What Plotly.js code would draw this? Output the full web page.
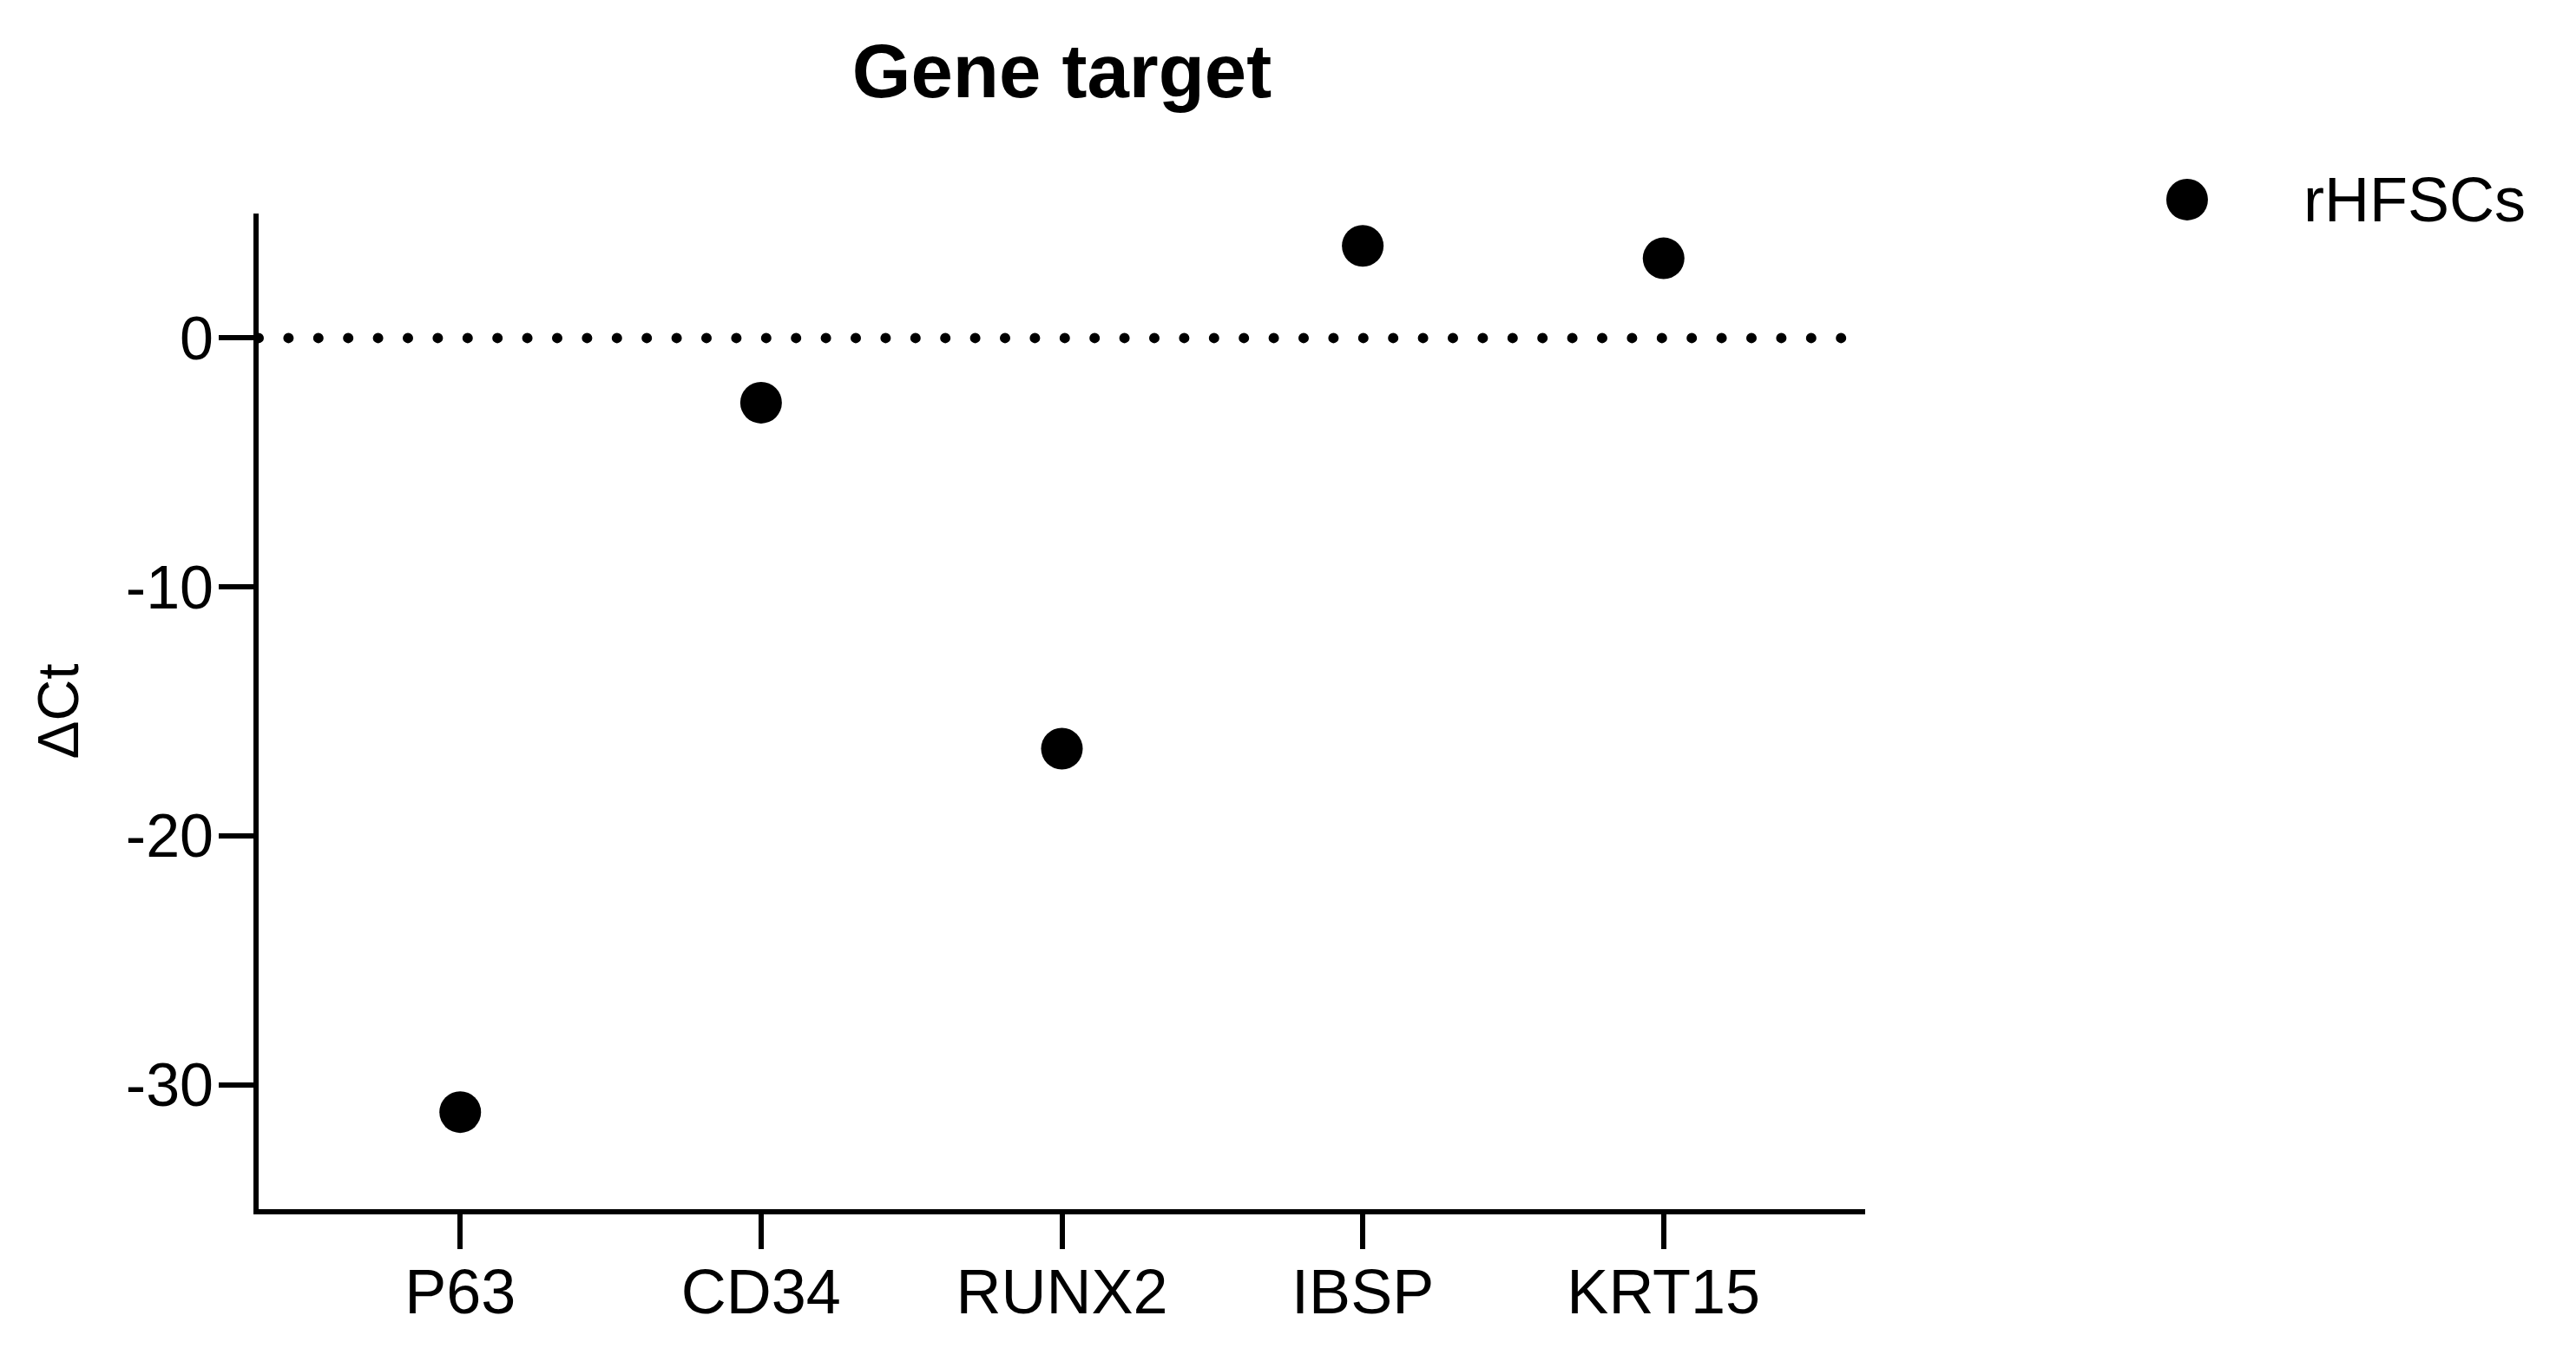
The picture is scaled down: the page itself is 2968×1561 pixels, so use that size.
<!DOCTYPE html>
<html>
<head>
<meta charset="utf-8">
<script src="https://cdn.plot.ly/plotly-3.0.1.min.js"></script>
<style>
  html, body { margin: 0; padding: 0; background: #fff; }
  #chart { width: 2968px; height: 1561px; }
  /* round caps turn the zero-length dashes of the reference line into dots */
  .shapelayer path.refline { stroke-linecap: round; }
</style>
</head>
<body>
<div id="chart"></div>
<script>
// values
var genes = ['P63', 'CD34', 'RUNX2', 'IBSP', 'KRT15'];
var deltaCt = [-31.1, -2.6, -16.5, 3.7, 3.2];
var yTicks = [-30, -20, -10, 0];
var seriesName = 'rHFSCs';

var black = '#000000';
var fontFamily = 'Arial, "Liberation Sans", sans-serif';

var data = [{
  x: genes,
  y: deltaCt,
  type: 'scatter',
  mode: 'markers',
  name: seriesName,
  marker: {
    color: black,
    size: 48,
    symbol: 'circle'
  },
  showlegend: false
}];

var layout = {
  width: 2968,
  height: 1561,
  margin: { l: 298, r: 819, t: 246, b: 168 },
  paper_bgcolor: '#ffffff',
  plot_bgcolor: '#ffffff',
  font: { family: fontFamily, color: black, size: 72 },
  title: {
    text: '<b>Gene target</b>',
    font: { family: fontFamily, size: 87, color: black },
    xref: 'paper',
    x: 0.5,
    xanchor: 'center',
    yref: 'container',
    y: 0.948,
    yanchor: 'middle'
  },
  xaxis: {
    type: 'category',
    range: [-0.67, 4.67],
    showline: true,
    linecolor: black,
    linewidth: 6,
    ticks: 'outside',
    ticklen: 40,
    tickwidth: 6,
    tickcolor: black,
    showgrid: false,
    zeroline: false,
    fixedrange: true,
    ticklabelstandoff: -12,
    tickfont: { family: fontFamily, size: 72, color: black }
  },
  yaxis: {
    range: [-35, 5],
    tickvals: yTicks,
    ticktext: yTicks.map(String),
    showline: true,
    linecolor: black,
    linewidth: 6,
    ticks: 'outside',
    ticklen: 40,
    tickwidth: 6,
    tickcolor: black,
    showgrid: false,
    zeroline: false,
    fixedrange: true,
    ticklabelstandoff: -8,
    tickfont: { family: fontFamily, size: 70, color: black },
    title: {
      text: 'ΔCt',
      font: { family: fontFamily, size: 66, color: black },
      standoff: 35
    }
  },
  shapes: [
    {
      // dotted reference line at 0
      type: 'line',
      xref: 'paper', yref: 'y',
      x0: 0, x1: 0.99,
      y0: 0, y1: 0,
      line: { color: black, width: 12, dash: '0px,34.4px' },
      layer: 'above',
      name: 'refline'
    },
    {
      // legend symbol
      type: 'circle',
      xref: 'paper', yref: 'paper',
      xsizemode: 'pixel', ysizemode: 'pixel',
      xanchor: 1.2004, yanchor: 1.014,
      x0: -24, x1: 24, y0: -24, y1: 24,
      fillcolor: black,
      line: { width: 0 }
    }
  ],
  annotations: [{
    // legend label
    text: seriesName,
    xref: 'paper', yref: 'paper',
    x: 1.2717, y: 1.014,
    xanchor: 'left', yanchor: 'middle',
    showarrow: false,
    font: { family: fontFamily, size: 72, color: black }
  }],
  showlegend: false
};

var config = { displayModeBar: false, staticPlot: true };

Plotly.newPlot('chart', data, layout, config).then(function () {
  var paths = document.querySelectorAll('.shapelayer path');
  if (paths.length) paths[0].classList.add('refline');
});
</script>
</body>
</html>
